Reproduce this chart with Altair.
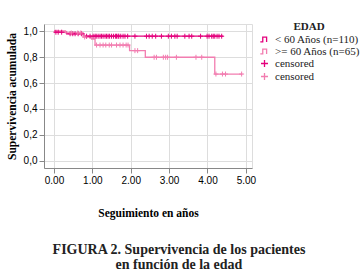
import altair as alt
import pandas as pd

# ---- data ----
labels = ["< 60 Años (n=110)", ">= 60 Años (n=65)", "censored", "censored "]

g1_times = [0.00, 0.02, 0.33, 0.78, 4.41]
g1_surv = [1.000, 0.991, 0.979, 0.960, 0.960]
g2_times = [0.00, 0.30, 0.76, 0.98, 1.07, 1.97, 2.38, 4.19, 4.91]
g2_surv = [1.000, 0.985, 0.954, 0.938, 0.892, 0.849, 0.798, 0.669, 0.669]

g1_cens = [0.05, 0.11, 0.20, 0.42, 0.49, 0.55, 0.63, 0.72, 0.85, 0.94, 1.02, 1.07,
           1.10, 1.15, 1.20, 1.24, 1.28, 1.33, 1.37, 1.41, 1.45, 1.50, 1.55, 1.60,
           1.63, 1.67, 1.69, 1.74, 1.80, 1.85, 1.92, 2.11, 2.41, 2.48, 2.56, 2.65,
           2.80, 2.98, 3.06, 3.15, 3.21, 3.41, 3.52, 3.59, 3.82, 3.99, 4.04, 4.11,
           4.15, 4.19, 4.25, 4.30, 4.37]
g2_cens = [0.45, 0.62, 0.70, 0.80, 1.11, 1.20, 1.28, 1.35, 1.44, 1.50, 1.63, 1.72,
           1.80, 1.88, 1.93, 2.11, 2.18, 2.61, 2.67, 2.85, 2.91, 2.96, 3.19, 3.70,
           3.85, 4.22, 4.39, 4.47, 4.89]

x_ticks = [0, 1, 2, 3, 4, 5]
y_ticks = [0.0, 0.2, 0.4, 0.6, 0.8, 1.0]

DARK = "#E4007C"
LIGHT = "#F27DB0"
BG = "#FDE6EF"
SERIF = "Liberation Serif"

STEP = "M-1.2,0.7L-0.5,0.7L-0.5,-0.7L0.6,-0.7L0.6,0.7"
PLUS = "M-1,0L1,0M0,-1L0,1"


def surv_at(times, surv, t):
    v = surv[0]
    for ti, si in zip(times, surv):
        if ti <= t:
            v = si
    return v


lines = pd.DataFrame(
    [{"t": t, "s": s, "key": labels[0]} for t, s in zip(g1_times, g1_surv)]
    + [{"t": t, "s": s, "key": labels[1]} for t, s in zip(g2_times, g2_surv)]
)
cens = pd.DataFrame(
    [{"t": t, "s": surv_at(g1_times, g1_surv, t), "key": labels[2]} for t in g1_cens]
    + [{"t": t, "s": surv_at(g2_times, g2_surv, t), "key": labels[3]} for t in g2_cens]
)

color_scale = alt.Scale(domain=labels, range=[DARK, LIGHT, DARK, LIGHT])
shape_scale = alt.Scale(domain=labels, range=[STEP, STEP, PLUS, PLUS])

legend = alt.Legend(
    title="EDAD", orient="none", legendX=215, legendY=-3, padding=0,
    titleFont=SERIF, titleFontSize=11, titleFontWeight="bold", titleColor="#222",
    titleAnchor="middle", titlePadding=2,
    labelFont=SERIF, labelFontSize=11, labelColor="#222", labelOffset=5,
    symbolSize=49, symbolStrokeWidth=1.3, rowPadding=0,
)

x_axis = alt.Axis(values=x_ticks, format=".2f", title="Seguimiento en años",
                  titlePadding=22, titleFont=SERIF, titleFontSize=11.5,
                  titleFontWeight="bold", labelOverlap=False)
y_axis = alt.Axis(values=y_ticks, labelExpr="replace(format(datum.value,'.1f'),'.',',')",
                  title="Supervivencia acumulada", titlePadding=6,
                  titleFont=SERIF, titleFontSize=11.5, titleFontWeight="bold",
                  labelOverlap=False, tickCount=6)
x_scale = alt.Scale(domain=[-0.26, 5.16], nice=False, zero=False)
y_scale = alt.Scale(domain=[-0.054, 1.054], nice=False, zero=False)

line_layer = alt.Chart(lines).mark_line(interpolate="step-after", strokeWidth=1.3).encode(
    x=alt.X("t:Q", scale=x_scale, axis=x_axis),
    y=alt.Y("s:Q", scale=y_scale, axis=y_axis),
    color=alt.Color("key:N", scale=color_scale, legend=legend),
)
point_layer = alt.Chart(cens).mark_point(filled=False, size=25, strokeWidth=1, opacity=1).encode(
    x=alt.X("t:Q", scale=x_scale, axis=x_axis),
    y=alt.Y("s:Q", scale=y_scale, axis=y_axis),
    color=alt.Color("key:N", scale=color_scale, legend=legend),
    shape=alt.Shape("key:N", scale=shape_scale, legend=legend),
)

chart = (
    alt.layer(line_layer, point_layer)
    .properties(
        width=208, height=144,
        autosize=alt.AutoSizeParams(type="none"),
        padding={"left": 44, "top": 24, "right": 112, "bottom": 108},
        title=alt.TitleParams(
            ["FIGURA 2. Supervivencia de los pacientes", "en función de la edad"],
            orient="bottom", anchor="middle", dx=31, offset=24,
            font=SERIF, fontSize=14, fontWeight="bold", lineHeight=15, color="#222",
        ),
    )
    .configure_view(fill=BG, stroke=DARK, strokeWidth=1.5)
    .configure_axis(
        domain=False, grid=False, ticks=True, tickColor=DARK, tickSize=4, tickWidth=1,
        labelFont=SERIF, labelFontSize=11, labelColor="#222", labelPadding=2,
        titleFont=SERIF, titleFontSize=11.5, titleFontWeight="bold", titleColor="#111",
    )
    .configure(background="white")
)

chart.save("out.html", embed_options={"renderer": "svg", "actions": False})
